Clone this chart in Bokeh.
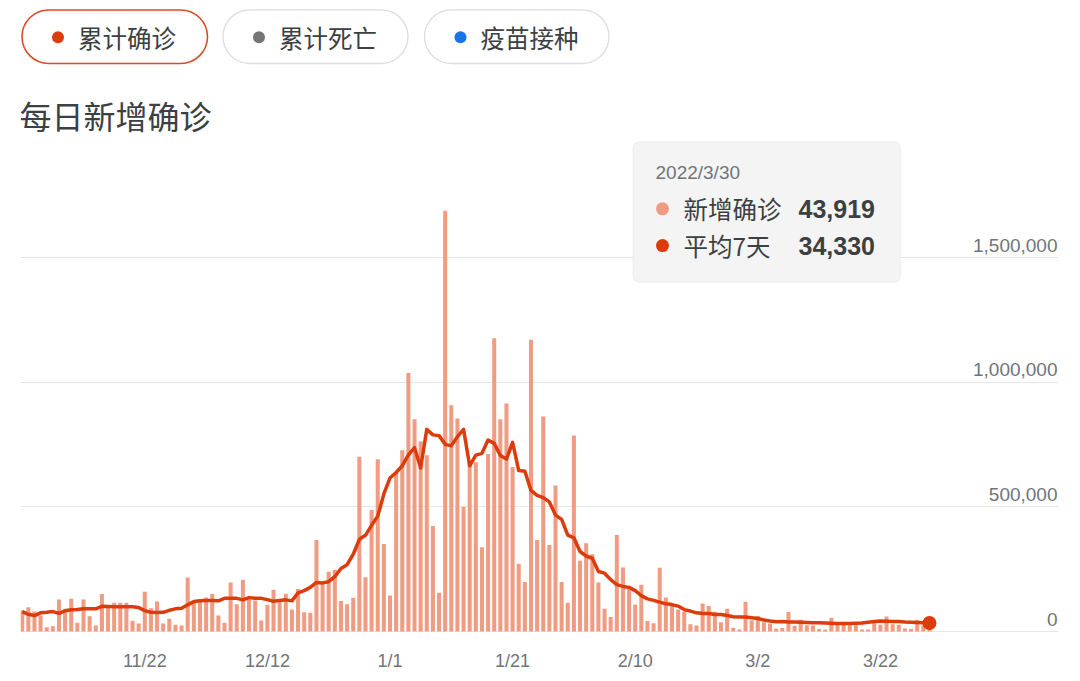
import pandas as pd
from bokeh.plotting import figure
from bokeh.models import Range1d, FixedTicker, BoxAnnotation, Label
from bokeh.core.properties import value
from bokeh.embed import file_html
from bokeh.resources import INLINE

# ---------------- data ----------------
start_date = "2021-11-02"

new_cases = [
    84000, 97000, 80000, 64000, 17000, 21000, 128000, 91000, 131000, 35000,
    128000, 61000, 24000, 151000, 104000, 115000, 115000, 115000, 43000, 32000,
    160000, 93000, 120000, 32000, 51000, 27000, 24000, 217000, 117000, 124000,
    136000, 151000, 64000, 35000, 197000, 109000, 208000, 128000, 124000, 44000,
    107000, 168000, 117000, 152000, 88000, 171000, 77000, 75000, 367000, 200000,
    240000, 248000, 122000, 109000, 135000, 701000, 218000, 488000, 691000, 351000,
    144000, 640000, 727000, 1037000, 852000, 762000, 707000, 423000, 156000, 1688000,
    908000, 855000, 500000, 680000, 679000, 338000, 712000, 1177000, 852000, 915000,
    660000, 272000, 199000, 1171000, 367000, 863000, 347000, 586000, 199000, 115000,
    786000, 284000, 354000, 310000, 197000, 91000, 58000, 387000, 257000, 180000,
    108000, 188000, 42000, 33000, 256000, 136000, 110000, 88000, 80000, 29000,
    24000, 112000, 102000, 79000, 37000, 91000, 15000, 8000, 119000, 45000,
    62000, 37000, 32000, 11000, 14000, 78000, 23000, 47000, 25000, 24000,
    10000, 8000, 55000, 31000, 27000, 25000, 25000, 8000, 8000, 46000,
    27000, 60000, 29000, 27000, 12000, 10000, 46000, 24000, 43919,
]

avg_7day = [
    80000, 69000, 64000, 75000, 77000, 80000, 73000, 83000, 87000, 88000,
    91000, 91000, 91000, 101000, 100000, 99000, 99000, 99000, 99000, 96000,
    84000, 77000, 76000, 77000, 85000, 91000, 93000, 107000, 120000, 123000,
    124000, 124000, 123000, 133000, 133000, 133000, 127000, 136000, 133000, 133000,
    128000, 121000, 124000, 127000, 123000, 155000, 164000, 177000, 197000, 195000,
    200000, 220000, 253000, 268000, 310000, 370000, 386000, 426000, 463000, 552000,
    616000, 638000, 665000, 709000, 738000, 656000, 811000, 789000, 786000, 751000,
    745000, 782000, 811000, 665000, 708000, 715000, 768000, 755000, 706000, 692000,
    759000, 646000, 643000, 566000, 546000, 537000, 520000, 467000, 450000, 387000,
    376000, 321000, 303000, 294000, 241000, 234000, 208000, 188000, 181000, 177000,
    164000, 144000, 131000, 125000, 118000, 111000, 108000, 102000, 88000, 82000,
    75000, 72000, 72000, 68000, 68000, 64000, 59000, 58000, 58000, 55000,
    52000, 46000, 42000, 39000, 40000, 38000, 38000, 37000, 36000, 35000,
    35000, 34000, 33000, 32000, 32000, 32000, 33000, 34000, 37000, 40000,
    42000, 41000, 40000, 40000, 38000, 37000, 36000, 35000, 34330,
]

x_tick_days = [20, 40, 60, 80, 100, 120, 140]
x_tick_labels = ["11/22", "12/12", "1/1", "1/21", "2/10", "3/2", "3/22"]
y_ticks = [0, 500000, 1000000, 1500000]
y_tick_labels = ["0", "500,000", "1,000,000", "1,500,000"]

tab_labels = ["累计确诊", "累计死亡", "疫苗接种"]
tab_dot_colors = ["#dc3b0c", "#757575", "#1a73e8"]
title_text = "每日新增确诊"
series_names = ["新增确诊", "平均7天"]

# ---------------- styles / layout ----------------
BAR_COLOR = "#f09c82"
LINE_COLOR = "#dc3b0c"
TEXT_COLOR = "#3c4043"
MUTED = "#70757a"
CJK = "Noto Sans CJK SC"
LATIN = "Liberation Sans"

dates = pd.date_range(start_date, periods=len(new_cases), freq="D")
days = list(range(len(new_cases)))

W, H = 1072, 673
X0_PAGE = 21.7      # canvas x of the first bar
DX = 6.13           # pixels per day
ZERO_PAGE = 636.0   # canvas y of value 0
VPP = 3981.0        # value per pixel
FRAME_LEFT, FRAME_RIGHT = 20, 1058
FRAME_BOTTOM = 637


def px_x(cx):
    return (cx - X0_PAGE) / DX


def px_y(cy):
    return (ZERO_PAGE - cy) * VPP


p = figure(
    width=W, height=H,
    x_range=Range1d(px_x(FRAME_LEFT), px_x(FRAME_RIGHT)),
    y_range=Range1d(px_y(FRAME_BOTTOM), px_y(0)),
    output_backend="svg", toolbar_location=None,
    y_axis_location=None,
    min_border_left=FRAME_LEFT, min_border_right=W - FRAME_RIGHT,
    min_border_top=0, min_border_bottom=H - FRAME_BOTTOM,
)
p.outline_line_color = None
p.background_fill_color = "white"
p.border_fill_color = "white"
p.xgrid.visible = False
p.ygrid.ticker = FixedTicker(ticks=y_ticks)
p.ygrid.grid_line_color = "#e6e6e6"
p.ygrid.grid_line_width = 1

p.xaxis.ticker = FixedTicker(ticks=x_tick_days)
p.xaxis.major_label_overrides = dict(zip(x_tick_days, x_tick_labels))
p.xaxis.axis_line_color = None
p.xaxis.major_tick_line_color = None
p.xaxis.minor_tick_line_color = None
p.xaxis.major_label_standoff = 12
p.xaxis.major_label_text_font = LATIN
p.xaxis.major_label_text_font_size = "18px"
p.xaxis.major_label_text_color = MUTED

# bars + 7-day line
p.vbar(x=days, top=new_cases, bottom=0, width=0.66, fill_color=BAR_COLOR, line_color=None)
p.line(x=days, y=avg_7day, line_color=LINE_COLOR, line_width=3.5, line_join="round")
p.scatter(x=[days[-1]], y=[avg_7day[-1]], size=14, fill_color=LINE_COLOR, line_color=None)

# y tick labels (inside plot, right aligned above grid lines)
x_end = px_x(FRAME_RIGHT)
p.text(x=[x_end] * len(y_ticks), y=y_ticks, text=y_tick_labels,
       text_align="right", text_baseline="bottom", x_offset=-1, y_offset=-6,
       text_font=value(LATIN), text_font_size="19px", text_color=MUTED)

# ---------------- tab buttons ----------------
tab_boxes = [(21.5, 207), (222.5, 407.5), (424, 608.5)]
for i, (lbl, col) in enumerate(zip(tab_labels, tab_dot_colors)):
    l, r = tab_boxes[i]
    p.add_layout(BoxAnnotation(
        left=px_x(l), right=px_x(r), top=px_y(9.5), bottom=px_y(63.5),
        fill_color="white", fill_alpha=1.0,
        line_color="#dc4a26" if i == 0 else "#dadce0",
        line_width=1.6 if i == 0 else 1.3,
        line_alpha=1.0,
        border_radius=27,
    ))
    p.scatter(x=[px_x(l + 36)], y=[px_y(37)], size=12, fill_color=col, line_color=None,
              level="overlay")
    p.add_layout(Label(x=px_x(l + 56), y=px_y(37), text=lbl, text_font=CJK,
                       text_font_size="24.5px", text_color=TEXT_COLOR, text_baseline="middle"))

# title
p.add_layout(Label(x=px_x(19), y=px_y(115), text=title_text, text_font=CJK,
                   text_font_size="32px", text_color=TEXT_COLOR, text_baseline="middle"))

# ---------------- tooltip ----------------
p.add_layout(BoxAnnotation(
    left=px_x(632.5), right=px_x(900), top=px_y(142.5), bottom=px_y(284),
    fill_color="#f4f4f4", fill_alpha=1.0, line_color="#d9d9d9", line_width=1.2,
    border_radius=6,
))
last = dates[-1]
p.add_layout(Label(x=px_x(655), y=px_y(173), text=f"{last.year}/{last.month}/{last.day}",
                   text_font=LATIN, text_font_size="19px", text_color=MUTED,
                   text_baseline="middle"))
row_y = [210, 247]
row_vals = [new_cases[-1], avg_7day[-1]]
row_cols = [BAR_COLOR, LINE_COLOR]
for name, v, c, yy in zip(series_names, row_vals, row_cols, row_y):
    p.scatter(x=[px_x(662)], y=[px_y(yy)], size=13, fill_color=c, line_color=None, level="overlay")
    p.add_layout(Label(x=px_x(683), y=px_y(yy), text=name, text_font=CJK,
                       text_font_size="24.5px", text_color=TEXT_COLOR, text_baseline="middle"))
    p.add_layout(Label(x=px_x(798), y=px_y(yy), text=f"{v:,}", text_font=LATIN,
                       text_font_size="25px", text_font_style="bold",
                       text_color=TEXT_COLOR, text_baseline="middle"))

open("out.html", "w").write(file_html(p, INLINE))
